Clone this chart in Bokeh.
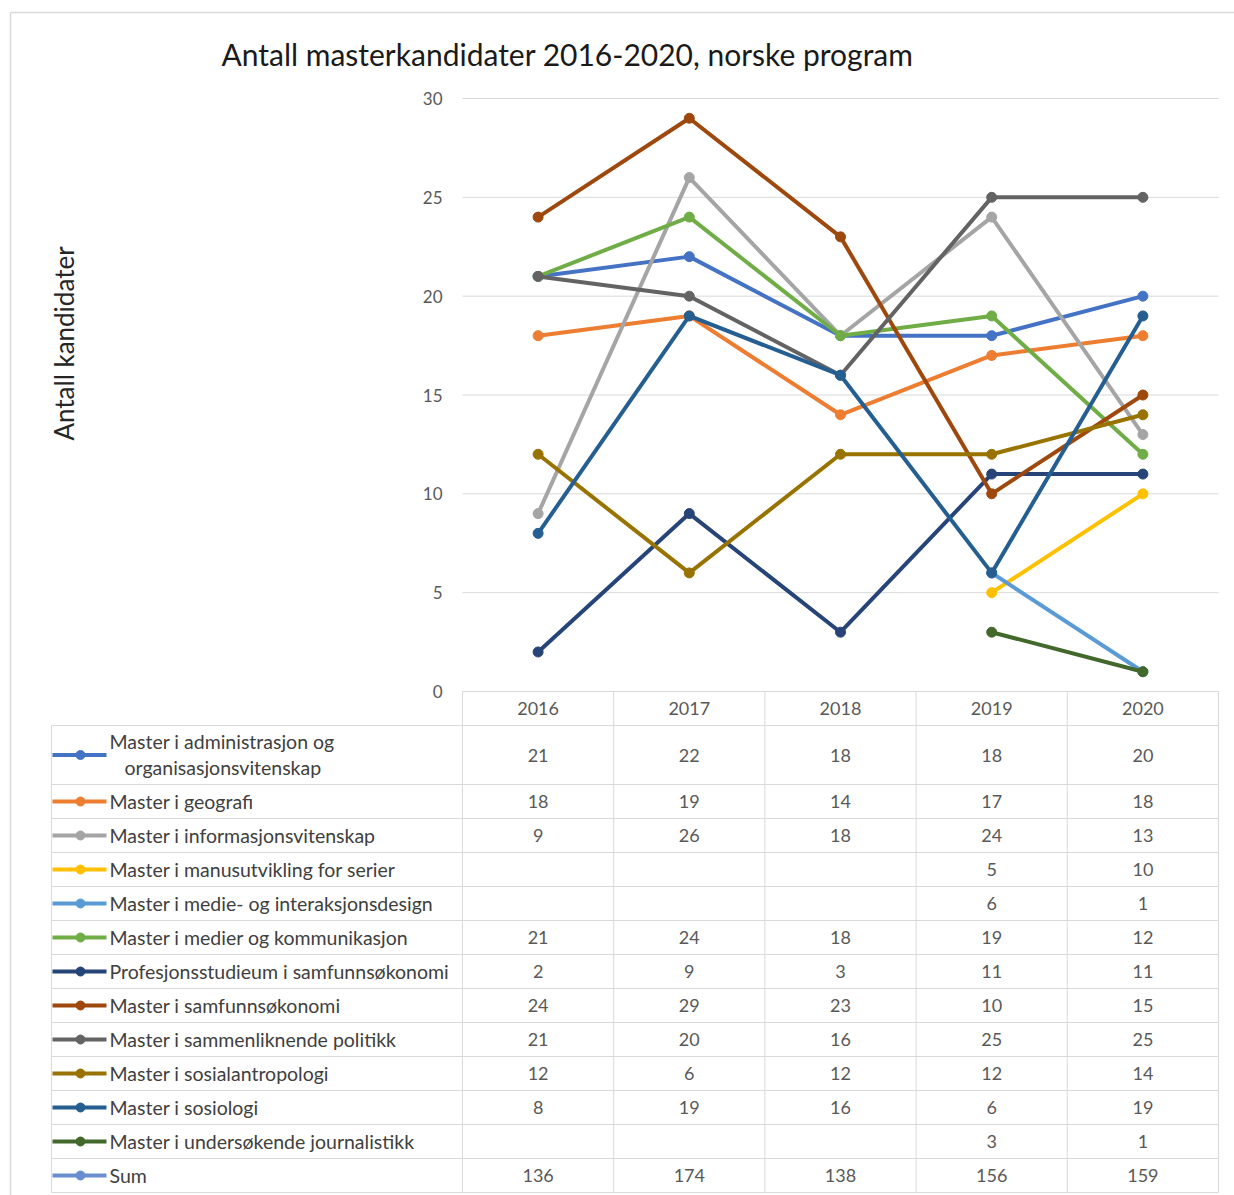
import math
from bokeh.plotting import figure
from bokeh.models import Range1d
from bokeh.core.properties import value
from bokeh.embed import file_html
from bokeh.resources import INLINE

# ---------------- data ----------------
years = ["2016", "2017", "2018", "2019", "2020"]
series_names = [
    "Master i administrasjon og organisasjonsvitenskap",
    "Master i geografi",
    "Master i informasjonsvitenskap",
    "Master i manusutvikling for serier",
    "Master i medie- og interaksjonsdesign",
    "Master i medier og kommunikasjon",
    "Profesjonsstudieum i samfunnsøkonomi",
    "Master i samfunnsøkonomi",
    "Master i sammenliknende politikk",
    "Master i sosialantropologi",
    "Master i sosiologi",
    "Master i undersøkende journalistikk",
]
adm = [21, 22, 18, 18, 20]
geografi = [18, 19, 14, 17, 18]
informasjon = [9, 26, 18, 24, 13]
manus = [None, None, None, 5, 10]
medie_design = [None, None, None, 6, 1]
medier = [21, 24, 18, 19, 12]
profesjon = [2, 9, 3, 11, 11]
samfunnsokonomi = [24, 29, 23, 10, 15]
sammenliknende = [21, 20, 16, 25, 25]
sosialantropologi = [12, 6, 12, 12, 14]
sosiologi = [8, 19, 16, 6, 19]
journalistikk = [None, None, None, 3, 1]
sum_name = "Sum"
sum_values = [136, 174, 138, 156, 159]
y_ticks = [0, 5, 10, 15, 20, 25, 30]

series_values = [adm, geografi, informasjon, manus, medie_design, medier,
                 profesjon, samfunnsokonomi, sammenliknende, sosialantropologi,
                 sosiologi, journalistikk]
colors = ["#4472C4", "#ED7D31", "#A5A5A5", "#FFC000", "#5B9BD5", "#70AD47",
          "#264478", "#9E480E", "#636363", "#997300", "#255E91", "#43682B"]
sum_color = "#698ED0"

# ---------------- layout helpers (page pixels -> data units) ----------------
W, H = 1234, 1195
X0, CW = 462.0, 151.2          # left of plot area, category width (px)
Y0, UY = 691.0, 593.0 / 30.0   # y of zero line, px per unit


def dx(px):
    return (px - X0) / CW


def dy(py):
    return (Y0 - py) / UY


FONT = value("Lato")
GRID = "#D9D9D9"

p = figure(width=W, height=H, output_backend="svg", toolbar_location=None,
           x_range=Range1d(dx(0), dx(W)), y_range=Range1d(dy(H), dy(0)),
           x_axis_location=None, y_axis_location=None, min_border=0)
p.grid.visible = False
p.outline_line_color = None
p.background_fill_color = "white"
p.border_fill_color = "white"

# outer chart border
p.segment(x0=[dx(10), dx(10)], y0=[dy(12), dy(12)], x1=[dx(10), dx(1240)],
          y1=[dy(1200), dy(12)], line_color=GRID, line_width=1.5)

# title
p.text(x=[dx(567)], y=[dy(53)], text=["Antall masterkandidater 2016-2020, norske program"],
       text_font=FONT, text_font_size="30px", text_color="#1a1a1a",
       text_align="center", text_baseline="middle")

# y axis label
p.text(x=[dx(63)], y=[dy(343)], text=["Antall kandidater"], angle=math.pi / 2,
       text_font=FONT, text_font_size="26px", text_color="#262626",
       text_align="center", text_baseline="middle")

n = len(years)
xc = [i + 0.5 for i in range(n)]

# gridlines and tick labels
p.segment(x0=[0] * len(y_ticks), y0=y_ticks, x1=[n] * len(y_ticks), y1=y_ticks,
          line_color=GRID, line_width=1)
p.text(x=[dx(442)] * len(y_ticks), y=y_ticks, text=[str(t) for t in y_ticks],
       text_font=FONT, text_font_size="17px", text_color="#595959",
       text_align="right", text_baseline="middle")

# series lines
for vals, col in zip(series_values, colors):
    ys = [float("nan") if v is None else v for v in vals]
    p.line(x=xc, y=ys, line_color=col, line_width=4)
    px = [x for x, v in zip(xc, vals) if v is not None]
    py = [v for v in vals if v is not None]
    p.scatter(x=px, y=py, size=10, fill_color=col, line_color=col)

# ---------------- data table ----------------
row_tops = [725.0]
heights = [59.0] + [34.0] * (len(series_names))
for h in heights:
    row_tops.append(row_tops[-1] + h)
table_bottom = row_tops[-1]
left_px = 51.0

# horizontal lines
p.segment(x0=[0], y0=[dy(691)], x1=[n], y1=[dy(691)], line_color=GRID, line_width=1)
p.segment(x0=[dx(left_px)] * len(row_tops), y0=[dy(t) for t in row_tops],
          x1=[n] * len(row_tops), y1=[dy(t) for t in row_tops],
          line_color=GRID, line_width=1)
# vertical lines
p.segment(x0=list(range(n + 1)), y0=[dy(691)] * (n + 1), x1=list(range(n + 1)),
          y1=[dy(table_bottom)] * (n + 1), line_color=GRID, line_width=1)
p.segment(x0=[dx(left_px)], y0=[dy(725)], x1=[dx(left_px)], y1=[dy(table_bottom)],
          line_color=GRID, line_width=1)

# header
p.text(x=xc, y=[dy(708)] * n, text=years, text_font=FONT, text_font_size="18px",
       text_color="#595959", text_align="center", text_baseline="middle")

LBL = "19.5px"
all_names = series_names + [sum_name]
all_vals = series_values + [sum_values]
all_cols = colors + [sum_color]
for r, (name, vals, col) in enumerate(zip(all_names, all_vals, all_cols)):
    top, bot = row_tops[r], row_tops[r + 1]
    cy = dy((top + bot) / 2.0)
    # legend key
    p.line(x=[dx(52), dx(106)], y=[cy, cy], line_color=col, line_width=4)
    p.scatter(x=[dx(80)], y=[cy], size=9, fill_color=col, line_color=col)
    if r == 0:
        words = name.split(" ")
        p.text(x=[dx(109)], y=[dy(741)], text=[" ".join(words[:-1])], text_font=FONT,
               text_font_size=LBL, text_color="#404040", text_align="left",
               text_baseline="middle")
        p.text(x=[dx(124)], y=[dy(767)], text=[words[-1]], text_font=FONT,
               text_font_size=LBL, text_color="#404040", text_align="left",
               text_baseline="middle")
    else:
        p.text(x=[dx(109)], y=[cy], text=[name], text_font=FONT, text_font_size=LBL,
               text_color="#404040", text_align="left", text_baseline="middle")
    tx = [x for x, v in zip(xc, vals) if v is not None]
    tt = [str(v) for v in vals if v is not None]
    p.text(x=tx, y=[cy] * len(tx), text=tt, text_font=FONT, text_font_size="18px",
           text_color="#595959", text_align="center", text_baseline="middle")

open("out.html", "w").write(file_html(p, INLINE))
